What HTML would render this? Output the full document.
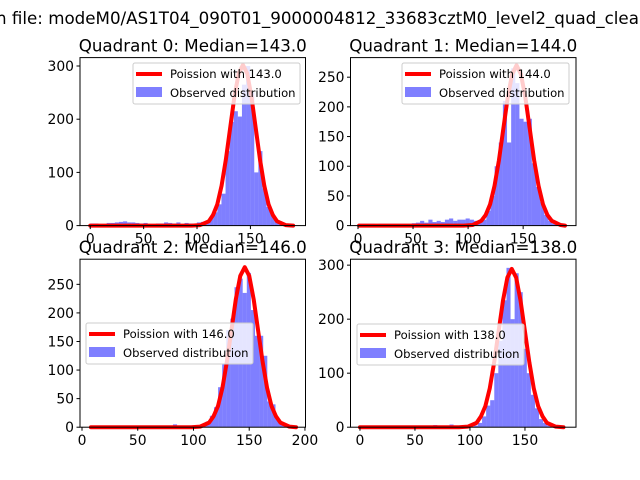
<!DOCTYPE html>
<html><head><meta charset="utf-8"><style>
body{margin:0;background:#fff}svg{display:block;font-family:"DejaVu Sans","Liberation Sans",sans-serif}
</style></head><body>
<svg id="fig" width="640" height="480">
<text x="-4" y="24" font-size="16.7">h file: modeM0/AS1T04_090T01_9000004812_33683cztM0_level2_quad_clean.evt</text>
</svg>
<script>
const q0Counts=[4,4,3,3,5,5,6,7,8,6,6,5,4,5,3,3,4,4,6,5,4,6,3,5,4,3,6,7,8,15,25,40,60,140,195,215,205,265,300,250,100,140,70,35,20,8,3,2,1,1];
const q1Counts=[3,3,3,3,2,3,3,3,3,3,3,3,3,4,5,8,5,10,6,8,6,10,12,8,10,10,12,10,8,5,10,25,50,100,140,210,140,265,240,180,175,180,105,65,40,18,8,3,2,1];
const q2Counts=[1,1,1,1,1,1,1,1,1,1,1,1,1,1,1,1,1,1,1,1,5,1,1,1,1,1,2,5,10,20,35,70,110,170,190,245,260,235,270,205,160,160,125,45,40,15,5,2,1,1];
const q3Counts=[1,1,1,1,1,1,1,1,1,1,1,1,1,1,1,1,1,1,4,1,1,1,5,3,1,1,4,1,3,8,20,40,50,100,160,235,295,200,285,250,145,100,60,35,15,8,3,1,1,1];
const curveOffsets=[-143,-48,-40,-32,-28,-24,-20,-16,-12,-8,-4,0,4,8,12,16,20,24,28,32,40,47];
const q0Curve=[0,0,1,8,20,40,75,124,183,242,286,302,286,242,183,124,75,40,20,8,1,0];
const q1Curve=[0,0,1,8,18,36,67,110,163,216,255,270,255,216,163,110,67,36,18,8,1,0];
const q2Curve=[0,0,1,8,19,37,69,115,169,224,265,280,265,224,169,115,69,37,19,8,1,0];
const q3Curve=[0,0,1,8,20,39,72,120,177,234,277,293,277,234,177,120,72,39,20,8,1,0];
const medians=[143,144,146,138];
const xTicks=[[0,50,100,150],[0,50,100,150],[0,50,100,150,200],[0,50,100,150]];
const yTicks=[[0,100,200,300],[0,50,100,150,200,250],[0,50,100,150,200,250],[0,100,200,300]];
const panels=[
 {c:q0Counts,cv:q0Curve,lo:0,hi:192,x0:80,y0:57.6,xmin:-9.6,xmax:201.6,ymax:315.8,leg:[133,63],cx:[0,192]},
 {c:q1Counts,cv:q1Curve,lo:0,hi:188,x0:350.5,y0:57.6,xmin:-6.8,xmax:198,ymax:283,leg:[402,63],cx:[0,188]},
 {c:q2Counts,cv:q2Curve,lo:8,hi:192,x0:80,y0:259.2,xmin:-1.8,xmax:200.5,ymax:294,leg:[86,323],cx:[8,192]},
 {c:q3Counts,cv:q3Curve,lo:0,hi:185,x0:350.5,y0:259.2,xmin:-8.6,xmax:196.4,ymax:311,leg:[357,324],cx:[0,185]}];
const NS="http://www.w3.org/2000/svg",svg=document.getElementById('fig');
function mk(t,a,p){const e=document.createElementNS(NS,t);for(const k in a)e.setAttribute(k,a[k]);(p||svg).appendChild(e);return e;}
const W=225.5,H=168;
panels.forEach((P,i)=>{
 const g=mk('g',{});
 
 
 const X=v=>P.x0+(v-P.xmin)/(P.xmax-P.xmin)*W, Y=v=>P.y0+H-v/P.ymax*H;
 const bw=(P.hi-P.lo)/P.c.length;
 P.c.forEach((v,k)=>{const r=mk('rect',{x:X(P.lo+k*bw),y:Y(v),width:X(P.lo+(k+1)*bw)-X(P.lo+k*bw),height:Y(0)-Y(v),fill:'#0000ff','fill-opacity':0.5},g);
  
  });
 const m=medians[i];
 let pts=P.cv.map((v,k)=>{let x=Math.min(Math.max(m+curveOffsets[k],P.cx[0]),P.cx[1]);return X(x)+','+Y(v);}).join(' ');
 const pl=mk('polyline',{points:pts,fill:'none',stroke:'#ff0000','stroke-width':4,'stroke-linejoin':'round','stroke-linecap':'round'},g);
 
 
 const fr=mk('rect',{x:P.x0,y:P.y0,width:W,height:H,fill:'none',stroke:'#000','stroke-width':1},g);
 
 
 xTicks[i].forEach(t=>{mk('line',{x1:X(t),x2:X(t),y1:P.y0+H,y2:P.y0+H+3.5,stroke:'#000'},g);
  const tx=mk('text',{x:X(t),y:P.y0+H+18,'font-size':13.9,'text-anchor':'middle'},g);tx.textContent=t;
  
  });
 yTicks[i].forEach(t=>{mk('line',{x1:P.x0-3.5,x2:P.x0,y1:Y(t),y2:Y(t),stroke:'#000'},g);
  const tx=mk('text',{x:P.x0-6,y:Y(t)+5,'font-size':13.9,'text-anchor':'end'},g);tx.textContent=t;
  
  });
 const ti=mk('text',{x:P.x0+W/2,y:P.y0-6,'font-size':16.7,'text-anchor':'middle'},g);
 ti.textContent='Quadrant '+i+': Median='+m.toFixed(1);
 
 
 const [lx,ly]=P.leg;const lg=mk('g',{},g);
 
 
 mk('rect',{x:lx,y:ly,width:167,height:41,rx:2,fill:'#fff','fill-opacity':0.8,stroke:'#ccc'},lg);
 mk('line',{x1:lx+3,x2:lx+29,y1:ly+11,y2:ly+11,stroke:'#f00','stroke-width':4},lg);
 mk('rect',{x:lx+3,y:ly+24,width:26,height:10,fill:'#0000ff','fill-opacity':0.5},lg);
 const t1=mk('text',{x:lx+37,y:ly+15,'font-size':11.6},lg);t1.textContent='Poission with '+m.toFixed(1);
 
 
 const t2=mk('text',{x:lx+37,y:ly+34,'font-size':11.6},lg);t2.textContent='Observed distribution';
 
 
});
</script>
</body></html>
